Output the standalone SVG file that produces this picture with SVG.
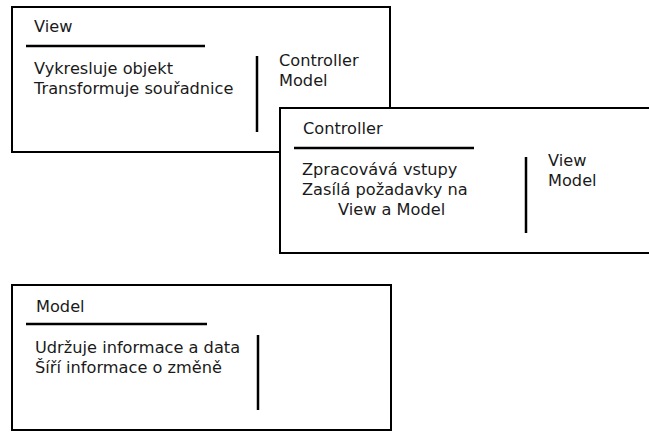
<svg xmlns="http://www.w3.org/2000/svg" width="649" height="432" viewBox="0 0 649 432">
  <style>
    .box { fill: #ffffff; stroke: #000000; stroke-width: 2; }
    .rule { stroke: #000000; stroke-width: 2.5; fill: none; }
    .sep { stroke: #000000; stroke-width: 2.5; fill: none; }
    text { font-family: "DejaVu Sans", "Liberation Sans", sans-serif; font-size: 16.2px; fill: #1a1a1a; }
  </style>
  <rect width="649" height="432" fill="#ffffff"/>

  <!-- View class card -->
  <g id="view">
    <rect class="box" x="12" y="7" width="378" height="145"/>
    <text x="34" y="32">View</text>
    <line class="rule" x1="26" y1="46" x2="205" y2="46"/>
    <text x="34" y="74">Vykresluje objekt</text>
    <text x="34" y="94">Transformuje souřadnice</text>
    <line class="sep" x1="257" y1="56" x2="257" y2="132"/>
    <text x="279" y="66">Controller</text>
    <text x="279" y="86">Model</text>
  </g>

  <!-- Controller class card -->
  <g id="controller">
    <rect class="box" x="280" y="108" width="380" height="145"/>
    <text x="303" y="134">Controller</text>
    <line class="rule" x1="294" y1="148" x2="474" y2="148"/>
    <text x="302" y="175">Zpracovává vstupy</text>
    <text x="302" y="195">Zasílá požadavky na</text>
    <text x="338" y="215">View a Model</text>
    <line class="sep" x1="526" y1="157" x2="526" y2="233"/>
    <text x="548" y="166">View</text>
    <text x="548" y="186">Model</text>
  </g>

  <!-- Model class card -->
  <g id="model">
    <rect class="box" x="12" y="285" width="379" height="145"/>
    <text x="36" y="312">Model</text>
    <line class="rule" x1="26" y1="324" x2="207" y2="324"/>
    <text x="35" y="353">Udržuje informace a data</text>
    <text x="35" y="373">Šíří informace o změně</text>
    <line class="sep" x1="258" y1="335" x2="258" y2="410"/>
  </g>

  <g id="connectors"/>
</svg>
